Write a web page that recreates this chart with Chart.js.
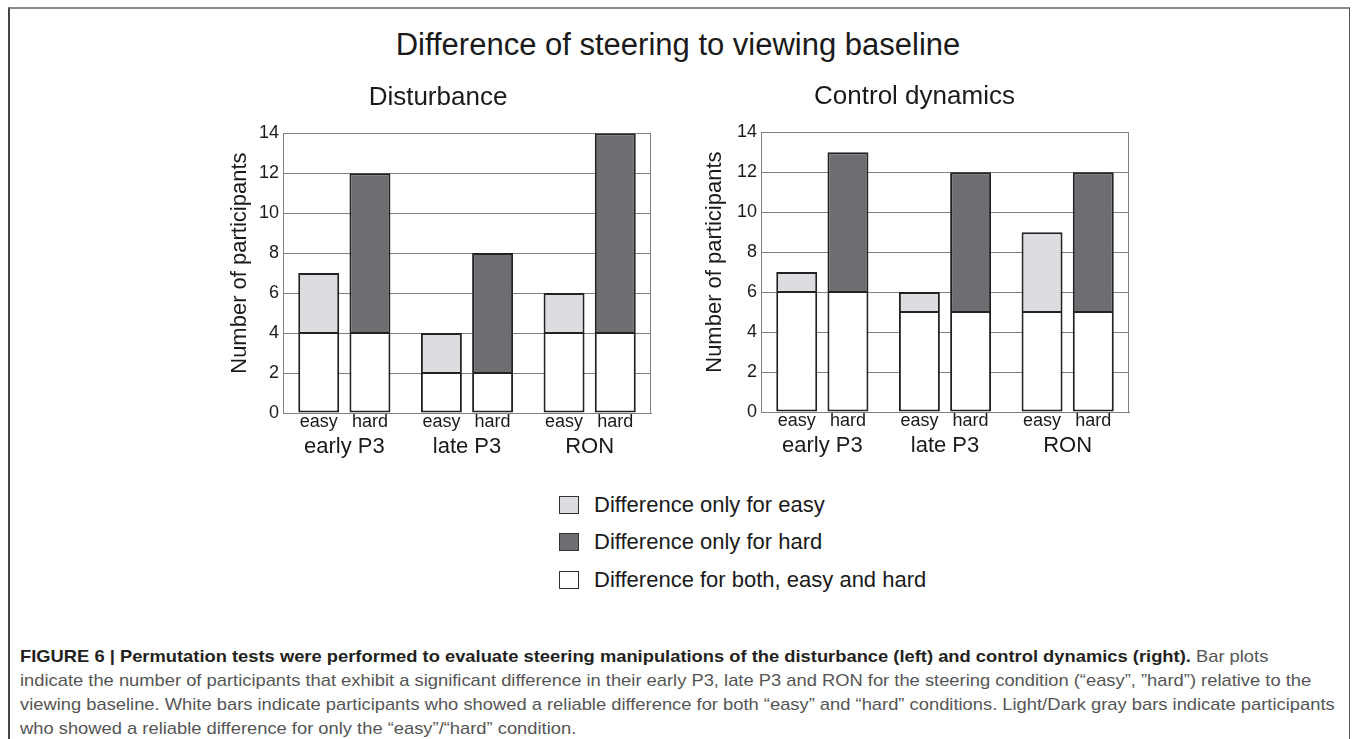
<!DOCTYPE html>
<html>
<head>
<meta charset="utf-8">
<script src="https://cdn.jsdelivr.net/npm/chart.js@4.4.0/dist/chart.umd.min.js"></script>
<style>
  body { margin: 0; background: #fff; font-family: 'Liberation Sans', Arial, sans-serif; }
  #page { position: relative; width: 1356px; height: 739px; overflow: hidden; }
  #frame { position: absolute; left: 8px; top: 7px; width: 1342px; height: 760px;
           border-top: 2px solid #8a8a8a; border-left: 2px solid #444; border-right: 1.5px solid #555; box-sizing: border-box; }
  #mainTitle { position: absolute; left: 0; width: 1356px; top: 27px; text-align: center;
               font-size: 31px; line-height: 36px; color: #1a1a1a; }
  canvas { position: absolute; }
  #legend { position: absolute; left: 559px; top: 486px; }
  .lg-row { height: 37.5px; display: flex; align-items: center; }
  .lg-box { width: 20px; height: 18px; border: 1.5px solid #333; box-sizing: border-box; margin-right: 15px; }
  .lg-text { font-size: 22px; color: #1a1a1a; }
  #caption { position: absolute; left: 20px; top: 645px; }
  .cap-line { white-space: nowrap; font-size: 17px; line-height: 24px; height: 24px; color: #555; transform-origin: left center; }
  .cap-line b { color: #231f20; }
</style>
</head>
<body>
<div id="page">
  <div id="frame"></div>
  <div id="mainTitle">Difference of steering to viewing baseline</div>
  <canvas id="chartDist" width="445" height="410" style="left:225px; top:60px;"></canvas>
  <canvas id="chartCtrl" width="448" height="410" style="left:700px; top:59px;"></canvas>
  <div id="legend"></div>
  <div id="caption">
    <div class="cap-line"><b>FIGURE 6 | Permutation tests were performed to evaluate steering manipulations of the disturbance (left) and control dynamics (right).</b> Bar plots</div>
    <div class="cap-line">indicate the number of participants that exhibit a significant difference in their early P3, late P3 and RON for the steering condition (“easy”, ”hard”) relative to the</div>
    <div class="cap-line">viewing baseline. White bars indicate participants who showed a reliable difference for both “easy” and “hard” conditions. Light/Dark gray bars indicate participants</div>
    <div class="cap-line">who showed a reliable difference for only the “easy”/“hard” condition.</div>
  </div>
</div>
<script>
// categories and conditions
const categories = ['early P3', 'late P3', 'RON'];
const conditions = ['easy', 'hard'];

// Disturbance (left)
const distBoth = [4, 2, 4];
const distOnlyEasy = [3, 2, 2];
const distOnlyHard = [8, 6, 10];

// Control dynamics (right)
const ctrlBoth = [6, 5, 5];
const ctrlOnlyEasy = [1, 1, 4];
const ctrlOnlyHard = [7, 7, 7];

const yTicks = [0, 2, 4, 6, 8, 10, 12, 14];
const yTitle = 'Number of participants';

const legendLabels = ['Difference only for easy', 'Difference only for hard', 'Difference for both, easy and hard'];
const colEasy = '#dcdde0';
const colHard = '#6d6e71';
const colBoth = '#ffffff';
const gridColor = '#808080';
const textColor = '#1a1a1a';
const fontFam = "'Liberation Sans', Arial, sans-serif";

// right frame line, easy/hard labels under each bar, y title
const framePlugin = {
    id: 'frameAndConditions',
    beforeDatasetsDraw(chart) {
        const ctx = chart.ctx;
        const a = chart.chartArea;
        ctx.save();
        ctx.strokeStyle = gridColor;
        ctx.lineWidth = 1;
        ctx.beginPath();
        ctx.moveTo(Math.round(a.right) - 0.5, a.top);
        ctx.lineTo(Math.round(a.right) - 0.5, a.bottom);
        ctx.stroke();
        ctx.restore();
    },
    afterDatasetsDraw(chart) {
        const ctx = chart.ctx;
        const a = chart.chartArea;
        ctx.save();
        ctx.fillStyle = textColor;
        ctx.font = '18px ' + fontFam;
        ctx.textAlign = 'center';
        ctx.textBaseline = 'alphabetic';
        const seen = {};
        chart.data.datasets.forEach((ds, i) => {
            if (seen[ds.stack]) return;
            seen[ds.stack] = true;
            chart.getDatasetMeta(i).data.forEach(bar => {
                ctx.fillText(ds.stack, bar.x, a.bottom + 14);
            });
        });
        // y axis title, a little above the middle like the original
        const ys = chart.scales.y;
        ctx.font = '22px ' + fontFam;
        ctx.textBaseline = 'middle';
        ctx.translate(ys.left + 15, (a.top + a.bottom) / 2 - 10);
        ctx.rotate(-Math.PI / 2);
        ctx.fillText(yTitle, 0, 0);
        ctx.restore();
    }
};

function makeChart(id, title, both, onlyEasy, onlyHard, yWidth) {
    const base = { borderColor: '#222', borderSkipped: false,
                   categoryPercentage: 0.835, barPercentage: 0.8 };
    // base segment and top segment share one thin divider
    const lower = Object.assign({ borderWidth: { left: 2, right: 2, bottom: 2, top: 1 } }, base);
    const upper = Object.assign({ borderWidth: { left: 2, right: 2, bottom: 1, top: 2 } }, base);
    return new Chart(document.getElementById(id).getContext('2d'), {
        type: 'bar',
        data: {
            labels: categories,
            datasets: [
                Object.assign({ label: legendLabels[2], data: both, backgroundColor: colBoth, stack: conditions[0] }, lower),
                Object.assign({ label: legendLabels[0], data: onlyEasy, backgroundColor: colEasy, stack: conditions[0] }, upper),
                Object.assign({ label: legendLabels[2], data: both, backgroundColor: colBoth, stack: conditions[1] }, lower),
                Object.assign({ label: legendLabels[1], data: onlyHard, backgroundColor: colHard, stack: conditions[1] }, upper)
            ]
        },
        options: {
            responsive: false,
            animation: false,
            devicePixelRatio: 1,
            layout: { padding: { left: 0, right: 19, top: 0, bottom: 0 } },
            plugins: {
                legend: { display: false },
                tooltip: { enabled: false },
                title: {
                    display: true,
                    text: title,
                    color: textColor,
                    font: { family: fontFam, size: 26, weight: 'normal' },
                    padding: { top: 22, bottom: 20 }
                }
            },
            scales: {
                x: {
                    stacked: true,
                    grid: { display: false, drawTicks: false },
                    border: { color: gridColor, width: 1 },
                    ticks: { color: textColor, padding: 21, font: { family: fontFam, size: 22 } },
                    afterFit(scale) { scale.height = 57; }
                },
                y: {
                    stacked: true,
                    min: 0,
                    max: 14,
                    afterBuildTicks(scale) { scale.ticks = yTicks.map(v => ({ value: v })); },
                    grid: { color: gridColor, lineWidth: 1, drawTicks: false },
                    border: { color: gridColor, width: 1 },
                    ticks: { color: textColor, padding: 4, font: { family: fontFam, size: 18 } },
                    afterFit(scale) { scale.width = yWidth; }
                }
            }
        },
        plugins: [framePlugin]
    });
}

makeChart('chartDist', 'Disturbance', distBoth, distOnlyEasy, distOnlyHard, 58);
makeChart('chartCtrl', 'Control dynamics', ctrlBoth, ctrlOnlyEasy, ctrlOnlyHard, 61);

// shared legend
const legendColors = [colEasy, colHard, colBoth];
let legendHtml = '';
legendLabels.forEach((lbl, i) => {
    legendHtml += `
        <div class="lg-row"><div class="lg-box" style="background:${legendColors[i]}"></div><div class="lg-text">${lbl}</div></div>
    `;
});
document.getElementById('legend').innerHTML = legendHtml;

// condensed caption: squeeze lines to the width of the original
const lines = document.querySelectorAll('.cap-line');
const factor = 1315 / lines[2].scrollWidth;
lines.forEach(l => { l.style.transform = `scaleX(${factor})`; });
</script>
</body>
</html>
